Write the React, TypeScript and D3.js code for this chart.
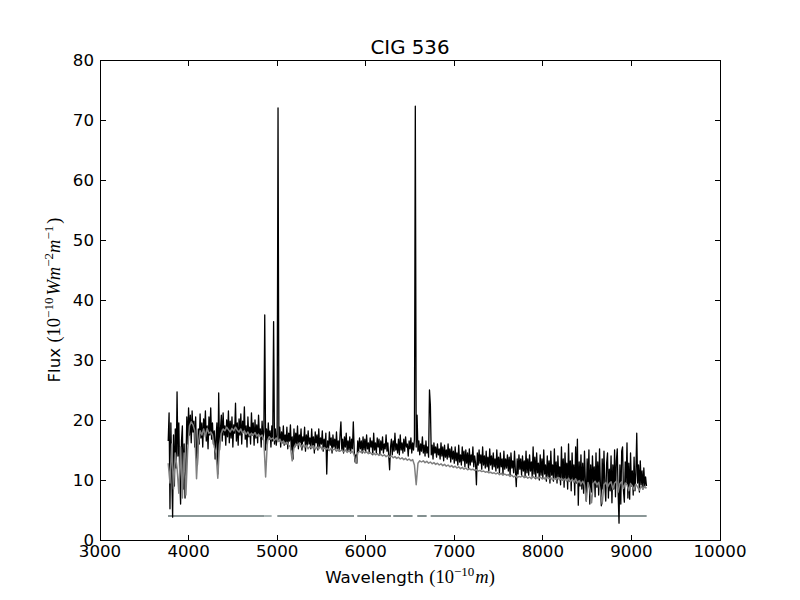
import React from 'react';
import * as d3 from 'd3';

const WIDTH = 800;
const HEIGHT = 600;
const PLOT = { left: 100, right: 720, top: 60, bottom: 540 };

const titleText = 'CIG 536';
const xTicks = [3000, 4000, 5000, 6000, 7000, 8000, 9000, 10000];
const yTicks = [0, 10, 20, 30, 40, 50, 60, 70, 80];
const xDomain = [3000, 10000];
const yDomain = [0, 80];

// observed spectrum (black), sampled every 10 Å from 3770 Å
const obsStart = 3770;
const obsStep = 10;
const obsFlux = [
  16.5, 21.2, 5.2, 19.5, 11, 3.8, 17.5, 9, 18.5, 12, // 3770
  24.7, 14, 19.5, 10.5, 6, 16.5, 19, 8.5, 16, 7, // 3870
  12, 20.5, 16, 22, 17.5, 20.8, 16.2, 21.5, 18, 19.8, // 3970
  15.5, 20.5, 14, 12.5, 18.5, 16, 21, 17, 19.5, 15.5, // 4070
  20.2, 17.8, 21.5, 16.5, 19, 15.2, 20.5, 17.5, 22, 16.8, // 4170
  19.5, 16, 18.2, 13.5, 17, 19.5, 11, 24.5, 15, 18.5, // 4270
  20.8, 16.5, 21.2, 17.5, 19, 15.8, 20, 17.2, 21.5, 16.2, // 4370
  19.8, 17, 20.5, 15.5, 19.2, 17.8, 22.8, 16.5, 19.5, 15.8, // 4470
  20.2, 17.5, 21, 16, 19.8, 18, 22.2, 16.8, 19, 15.5, // 4570
  20.5, 17.2, 18.8, 16, 21.2, 17.5, 19.5, 15.8, 20, 17, // 4670
  19.2, 16.2, 20.8, 17.5, 18.5, 15.5, 19.8, 16.8, 18, 37.5, // 4770
  15, 18.5, 16, 19.5, 16.8, 18.2, 15.5, 19, 16.5, 36.4, // 4870
  16, 18.5, 15.8, 17.5, 72, 16.5, 18.8, 15.5, 18, 16.2, // 4970
  19, 15.8, 17.5, 16, 18.8, 15.2, 17.8, 16.5, 19.2, 15, // 5070
  17.2, 13.5, 18.5, 15.5, 17.8, 16, 19, 15.2, 17.5, 16.2, // 5170
  18.5, 15, 17.2, 16.5, 18.8, 14.8, 17.5, 15.8, 18.2, 16, // 5270
  17, 15.2, 18.5, 15.8, 17.2, 14.5, 18, 16.2, 17.5, 15, // 5370
  18.5, 15.5, 17, 16, 18.2, 14.8, 16.8, 15.5, 17.8, 11, // 5470
  16.5, 15, 18, 15.8, 17, 14.5, 17.5, 15.5, 16.8, 15, // 5570
  18, 15.2, 16.5, 14.8, 17.5, 19.7, 15, 16.8, 14.5, 17.2, // 5670
  15.5, 17.8, 14.8, 16.5, 15, 17.2, 14.5, 16.8, 15.2, 19.7, // 5770
  15, 13, 14.2, 12.8, 16.5, 14.8, 17, 15.2, 16.5, 14.5, // 5870
  17.2, 15, 16.8, 14.8, 17.5, 15.2, 16.2, 14.5, 17, 15.5, // 5970
  16.5, 14.2, 17.8, 15, 16.2, 14.5, 17, 15.5, 16.8, 14.2, // 6070
  16.5, 15, 17.2, 14.5, 16, 15.2, 17.5, 14.8, 16.2, 14, // 6170
  11.7, 15.5, 16.8, 14.2, 16.5, 14.8, 17.8, 15, 16, 14.5, // 6270
  16.8, 14.2, 17.5, 15, 16.2, 14.5, 16.8, 14.8, 17.2, 15.5, // 6370
  16, 14, 16.5, 15.2, 17, 14.5, 16.2, 15, 16.8, 72.3, // 6470
  15.5, 20.8, 14.8, 16.5, 14.2, 16, 14.8, 17.2, 14.5, 15.8, // 6570
  14, 16.5, 14.5, 15.5, 13.8, 25, 22.5, 14.2, 15.8, 13.5, // 6670
  16.2, 14.5, 15.5, 13.8, 16, 14.2, 15.2, 13.5, 16.2, 14, // 6770
  15.5, 13.2, 15.8, 13.8, 15, 13.5, 16, 13.8, 15.2, 13, // 6870
  15.5, 13.5, 14.8, 12.8, 15.5, 13.2, 14.5, 12.5, 15.8, 13, // 6970
  14.2, 12.5, 15.5, 13.2, 14.8, 12.2, 15, 12.8, 14.5, 12, // 7070
  15.2, 12.5, 14.2, 13, 15.5, 12.2, 14, 12.8, 9.2, 14.5, // 7170
  12.5, 15, 12.8, 14.2, 11.8, 15.5, 12.5, 14, 12, 14.8, // 7270
  12.2, 13.8, 11.5, 15.2, 12.5, 14, 11.8, 14.5, 12.2, 13.5, // 7370
  11.5, 15, 12, 13.8, 11.2, 14.5, 12.2, 13.5, 11, 14.8, // 7470
  11.8, 13.5, 12, 14.2, 11.5, 13.8, 10.8, 14.5, 12, 13.2, // 7570
  11.2, 14.8, 11.5, 8.9, 13.5, 11, 14.2, 11.8, 13.5, 10.8, // 7670
  14, 11.5, 13.2, 10.5, 14.8, 11.2, 13.5, 10.8, 14.2, 11.5, // 7770
  13, 10.5, 15.5, 11, 13.8, 10.2, 14.5, 11.2, 12.8, 10, // 7870
  14.2, 10.8, 13.5, 10.2, 15, 11, 12.5, 9.8, 14, 10.5, // 7970
  13.2, 9.5, 14.8, 10.8, 12.5, 9.8, 15.2, 10.2, 13, 9.5, // 8070
  14, 10.5, 12.2, 9.2, 15.5, 10, 13.5, 8.8, 14.5, 10.2, // 8170
  12.8, 8.5, 16, 9.8, 13.2, 8.2, 14.5, 10, 12.5, 7.5, // 8270
  15.5, 9.5, 16.8, 5.8, 13, 9, 14.2, 8.5, 12.8, 7.8, // 8370
  14.8, 9.8, 6.5, 13.5, 9.2, 15, 6, 12.5, 8, 14, // 8470
  9.5, 12.2, 7.2, 14.5, 8.8, 13, 7.5, 15.2, 9, 5.7, // 8570
  13.5, 8.5, 14.8, 9.2, 6.5, 12.8, 14.5, 7, 11.8, 8.2, // 8670
  14, 6.2, 12.5, 8.5, 15, 7.2, 13.2, 15.2, 7.8, 2.8, // 8770
  12.5, 6, 14.8, 15.5, 8.2, 6.3, 13, 9.5, 16.2, 7, // 8870
  12.8, 6.8, 14.5, 9, 11.5, 7.5, 13.8, 8.2, 11, 17.8, // 8970
  9.5, 12.5, 8, 13.2, 9.2, 11.5, 8.5, 12, 9, 10.5, // 9070
  9, // 9170
];

// model spectrum (grey), sampled every 20 Å from 3770 Å
const modelStart = 3770;
const modelStep = 20;
const modelFlux = [
  12.8, 9.5, 16, 8.5, 14.5, 12, 7.8, 15.5, 7, 14.5, // 3770
  7.5, 15, 19, 19.7, 19.2, 18.2, 10.2, 16, 18.2, 17.5, // 3970
  18.5, 17.2, 18.6, 17.8, 18, 17.5, 15.5, 14.5, 10.3, 16, // 4170
  17.8, 18.5, 18.2, 18.8, 18.4, 18, 18.6, 18.2, 18.8, 18.3, // 4370
  18, 18.5, 17.8, 18.2, 17.6, 18, 17.4, 17.8, 17.5, 17.9, // 4570
  17.3, 17.6, 17.2, 17.5, 16.5, 10.5, 16.5, 17.2, 16.8, 17, // 4770
  16.6, 17, 16.4, 16.8, 16.2, 16.5, 16, 16.3, 15.8, 15.5, // 4970
  13.2, 15.4, 16, 15.7, 16.2, 15.5, 15.9, 15.4, 15.8, 15.2, // 5170
  15.6, 15.3, 15.7, 15.1, 15.5, 15.2, 15.6, 15, 15.4, 15.1, // 5370
  15.3, 14.9, 15.3, 15, 15.2, 14.8, 15.1, 14.8, 15, 14.7, // 5570
  15, 14.6, 14.9, 14.6, 14.8, 14.2, 12.8, 14.5, 14.8, 14.6, // 5770
  14.8, 14.5, 14.7, 14.4, 14.6, 14.3, 14.5, 14.2, 14.4, 14.1, // 5970
  14.3, 14, 14.2, 13.9, 14.1, 13.8, 14, 13.7, 13.9, 13.6, // 6170
  13.8, 13.5, 13.7, 13.4, 13.6, 13.3, 13.5, 13.2, 13.4, 12.5, // 6370
  9.2, 12.8, 13.2, 13, 13.2, 12.9, 13.1, 12.8, 13, 12.7, // 6570
  12.9, 12.6, 12.8, 12.5, 12.7, 12.4, 12.6, 12.3, 12.5, 12.2, // 6770
  12.4, 12.1, 12.3, 12, 12.2, 11.9, 12.1, 11.8, 12, 11.7, // 6970
  11.9, 11.7, 11.8, 11.6, 11.7, 11.5, 11.6, 11.4, 11.5, 11.3, // 7170
  11.4, 11.2, 11.3, 11.1, 11.2, 11, 11.2, 10.9, 11.1, 10.8, // 7370
  11, 10.8, 10.9, 10.6, 10.8, 10.5, 10.7, 10.4, 10.6, 10.5, // 7570
  10.7, 10.4, 10.6, 10.3, 10.5, 10.2, 10.6, 10.3, 10.5, 10.2, // 7770
  10.5, 10.2, 10.4, 10.1, 10.5, 10.2, 10.4, 10, 10.3, 10.1, // 7970
  10.4, 10, 10.3, 9.9, 10.2, 9.8, 10.3, 9.7, 10.1, 9.6, // 8170
  10.2, 9.5, 9.9, 9.3, 9.8, 9.2, 6.5, 9.6, 8.5, 6.2, // 8370
  9.4, 9.8, 9.2, 9.6, 8, 6, 9.2, 9.6, 8.8, 9.4, // 8570
  9.7, 8.5, 9.5, 9.8, 8, 9.4, 9.7, 8.6, 9.5, 9.2, // 8770
  8.2, 9.4, 9, 8.4, 9.3, 8.8, 8.3, 9, 8.5, 8.9, // 8970
  8.6, // 9170
];

// masked-pixel indicator line at flux = 4
const maskLevel = 4;
const maskSegments = [
  [3768, 4852],
  [5002, 5868],
  [5905, 6285],
  [6311, 6529],
  [6582, 6688],
  [6733, 9172],
];
const maskFaintSegments = [[4852, 4938]];

const SANS = "'DejaVu Sans', sans-serif";
const MATH = "'Liberation Serif', 'DejaVu Serif', serif";

export default function App() {
  const x = d3.scaleLinear().domain(xDomain).range([PLOT.left, PLOT.right]);
  const y = d3.scaleLinear().domain(yDomain).range([PLOT.bottom, PLOT.top]);

  const obsLine = d3
    .line<number>()
    .x((_, i) => x(obsStart + i * obsStep))
    .y((d) => y(d));
  const modelLine = d3
    .line<number>()
    .x((_, i) => x(modelStart + i * modelStep))
    .y((d) => y(d));

  const tickLen = 5.5;
  const fs = 16.67;
  const mfs = 18.5;
  const sup = 13;

  return (
    <svg
      width={WIDTH}
      height={HEIGHT}
      style={{ position: 'absolute', left: 0, top: 0, background: '#fff' }}
      xmlns="http://www.w3.org/2000/svg"
    >
      <rect x={0} y={0} width={WIDTH} height={HEIGHT} fill="#fff" />
      <defs>
        <clipPath id="plotClip">
          <rect
            x={PLOT.left}
            y={PLOT.top}
            width={PLOT.right - PLOT.left}
            height={PLOT.bottom - PLOT.top}
          />
        </clipPath>
      </defs>

      <g clipPath="url(#plotClip)">
        {maskSegments.map((s, i) => (
          <line
            key={'m' + i}
            x1={x(s[0])}
            x2={x(s[1])}
            y1={y(maskLevel)}
            y2={y(maskLevel)}
            stroke="#637373"
            strokeWidth={1.6}
          />
        ))}
        {maskFaintSegments.map((s, i) => (
          <line
            key={'mf' + i}
            x1={x(s[0])}
            x2={x(s[1])}
            y1={y(maskLevel)}
            y2={y(maskLevel)}
            stroke="#95a3a3"
            strokeWidth={1.6}
          />
        ))}
        <path
          d={obsLine(obsFlux) || ''}
          fill="none"
          stroke="#000"
          strokeWidth={1.3}
          strokeLinejoin="round"
        />
        <path
          d={modelLine(modelFlux) || ''}
          fill="none"
          stroke="#808080"
          strokeWidth={1.5}
          strokeLinejoin="round"
        />
      </g>

      {/* axes frame */}
      <rect
        x={PLOT.left}
        y={PLOT.top}
        width={PLOT.right - PLOT.left}
        height={PLOT.bottom - PLOT.top}
        fill="none"
        stroke="#000"
        strokeWidth={1}
        shapeRendering="crispEdges"
      />

      {/* x ticks */}
      {xTicks.map((t) => (
        <g key={'xt' + t}>
          <line
            x1={x(t)}
            x2={x(t)}
            y1={PLOT.bottom}
            y2={PLOT.bottom - tickLen}
            stroke="#000"
            shapeRendering="crispEdges"
          />
          <line
            x1={x(t)}
            x2={x(t)}
            y1={PLOT.top}
            y2={PLOT.top + tickLen}
            stroke="#000"
            shapeRendering="crispEdges"
          />
          <text
            x={x(t)}
            y={PLOT.bottom + 17}
            textAnchor="middle"
            fontFamily={SANS}
            fontSize={fs}
            fill="#000"
          >
            {t}
          </text>
        </g>
      ))}

      {/* y ticks */}
      {yTicks.map((t) => (
        <g key={'yt' + t}>
          <line
            x1={PLOT.left}
            x2={PLOT.left + tickLen}
            y1={y(t)}
            y2={y(t)}
            stroke="#000"
            shapeRendering="crispEdges"
          />
          <line
            x1={PLOT.right}
            x2={PLOT.right - tickLen}
            y1={y(t)}
            y2={y(t)}
            stroke="#000"
            shapeRendering="crispEdges"
          />
          <text
            x={PLOT.left - 6}
            y={y(t) + 6}
            textAnchor="end"
            fontFamily={SANS}
            fontSize={fs}
            fill="#000"
          >
            {t}
          </text>
        </g>
      ))}

      {/* title */}
      <text
        x={(PLOT.left + PLOT.right) / 2}
        y={53.5}
        textAnchor="middle"
        fontFamily={SANS}
        fontSize={19.8}
        fill="#000"
      >
        {titleText}
      </text>

      {/* x label */}
      <text
        x={(PLOT.left + PLOT.right) / 2}
        y={582.7}
        textAnchor="middle"
        fontFamily={SANS}
        fontSize={fs}
        fill="#000"
      >
        <tspan>{'Wavelength '}</tspan>
        <tspan fontFamily={MATH} fontSize={mfs}>(10</tspan>
        <tspan fontFamily={MATH} fontSize={sup} dy={-7}>−10</tspan>
        <tspan fontFamily={MATH} fontSize={mfs} fontStyle="italic" dy={7} dx={1}>m</tspan>
        <tspan fontFamily={MATH} fontSize={mfs}>)</tspan>
      </text>

      {/* y label */}
      <text
        transform={`translate(60,${(PLOT.top + PLOT.bottom) / 2}) rotate(-90)`}
        textAnchor="middle"
        fontFamily={SANS}
        fontSize={fs}
        fill="#000"
      >
        <tspan>{'Flux '}</tspan>
        <tspan fontFamily={MATH} fontSize={mfs}>(10</tspan>
        <tspan fontFamily={MATH} fontSize={sup} dy={-7}>−10</tspan>
        <tspan fontFamily={MATH} fontSize={mfs} fontStyle="italic" dy={7} dx={2}>Wm</tspan>
        <tspan fontFamily={MATH} fontSize={sup} dy={-7}>−2</tspan>
        <tspan fontFamily={MATH} fontSize={mfs} fontStyle="italic" dy={7}>m</tspan>
        <tspan fontFamily={MATH} fontSize={sup} dy={-7}>−1</tspan>
        <tspan fontFamily={MATH} fontSize={mfs} dy={7} dx={2}>)</tspan>
      </text>
    </svg>
  );
}
